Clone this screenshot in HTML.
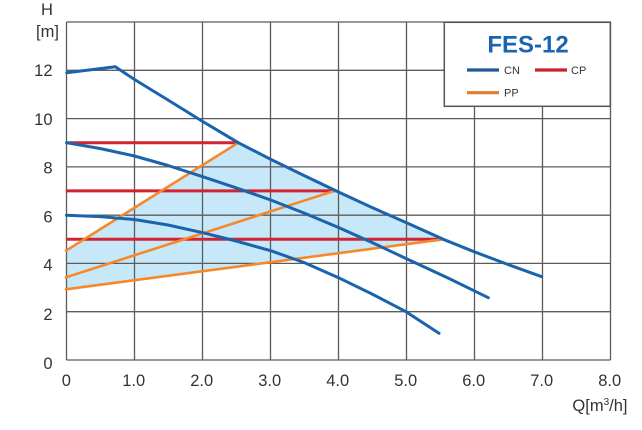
<!DOCTYPE html>
<html>
<head>
<meta charset="utf-8">
<style>
html,body{margin:0;padding:0;background:#fff;}
svg{display:block;}
text{font-family:"Liberation Sans",sans-serif;fill:#333;}
</style>
</head>
<body>
<svg width="642" height="430" viewBox="0 0 642 430" xmlns="http://www.w3.org/2000/svg">
  <!-- fill region -->
  <polygon fill="#c6e8f8" points="66.5,250.7 238.3,142.7 270.7,159.3 338.5,192 406,222.5 443.3,239.3 66.5,289.3"/>

  <!-- grid -->
  <g stroke="#5c5c5c" stroke-width="1.3" fill="none">
    <line x1="66.5" y1="22" x2="66.5" y2="360"/>
    <line x1="134.5" y1="22" x2="134.5" y2="360"/>
    <line x1="202.5" y1="22" x2="202.5" y2="360"/>
    <line x1="270.5" y1="22" x2="270.5" y2="360"/>
    <line x1="338.5" y1="22" x2="338.5" y2="360"/>
    <line x1="406.5" y1="22" x2="406.5" y2="360"/>
    <line x1="474.5" y1="22" x2="474.5" y2="360"/>
    <line x1="542.5" y1="22" x2="542.5" y2="360"/>
    <line x1="610.5" y1="22" x2="610.5" y2="360"/>
    <line x1="66.5" y1="22" x2="610.5" y2="22"/>
    <line x1="66.5" y1="70.3" x2="610.5" y2="70.3"/>
    <line x1="66.5" y1="118.6" x2="610.5" y2="118.6"/>
    <line x1="66.5" y1="166.9" x2="610.5" y2="166.9"/>
    <line x1="66.5" y1="215.2" x2="610.5" y2="215.2"/>
    <line x1="66.5" y1="263.4" x2="610.5" y2="263.4"/>
    <line x1="66.5" y1="311.7" x2="610.5" y2="311.7"/>
    <line x1="66.5" y1="360" x2="610.5" y2="360"/>
  </g>

  <!-- CP red lines -->
  <g stroke="#d42330" stroke-width="3" fill="none">
    <line x1="66" y1="142.7" x2="238.3" y2="142.7"/>
    <line x1="66" y1="190.9" x2="335" y2="190.9"/>
    <line x1="66" y1="239.3" x2="443.3" y2="239.3"/>
  </g>

  <!-- PP orange lines -->
  <g stroke="#f7882a" stroke-width="2.6" fill="none" stroke-linecap="round">
    <line x1="66" y1="250.7" x2="238.3" y2="142.7"/>
    <line x1="66" y1="277.3" x2="335" y2="190.7"/>
    <line x1="66" y1="289.3" x2="443.3" y2="239.3"/>
  </g>

  <!-- CN blue curves -->
  <g stroke="#1a63ad" stroke-width="3" fill="none" stroke-linejoin="round" stroke-linecap="round">
    <polyline points="66.7,72.7 115.3,66.7 134.5,79.5 168,100 202.7,121.5 238.3,142.7 270.7,159.3 304,175.5 338.5,192 372,207.5 406,222.5 443.3,239.3 474,251.7 508,264.5 541.7,276.7"/>
    <polyline points="66.5,142.7 100,148.5 134.5,156 168,165.5 202.7,176.7 236,187.8 270.7,200 304,213 338.5,227.5 372,242.5 406,258.5 448,278 488.3,297.7"/>
    <polyline points="66.5,215.3 100,216.6 134.5,219.5 168,225 202.7,232.7 236,241 270.7,250.7 304,262.5 338.5,277.7 372,294 406,311.7 439,333.3"/>
  </g>

  <!-- legend box -->
  <rect x="444.3" y="22.3" width="166" height="84" fill="#fff" stroke="#555" stroke-width="1.5"/>
  <text x="528" y="52.5" text-anchor="middle" style="font-size:24px;font-weight:bold;fill:#1b64b0;">FES-12</text>
  <line x1="467" y1="70" x2="499" y2="70" stroke="#1f5a96" stroke-width="3.2"/>
  <text x="504" y="74" style="font-size:11px;">CN</text>
  <line x1="535" y1="70" x2="567" y2="70" stroke="#c8222f" stroke-width="3.2"/>
  <text x="571" y="74" style="font-size:11px;">CP</text>
  <line x1="467" y1="92.7" x2="499" y2="92.7" stroke="#e07b32" stroke-width="3.2"/>
  <text x="504" y="96.7" style="font-size:11px;">PP</text>

  <!-- y axis labels -->
  <g style="font-size:16.5px;" text-anchor="end">
    <text x="52.5" y="76">12</text>
    <text x="52.5" y="125">10</text>
    <text x="52.5" y="173.3">8</text>
    <text x="52.5" y="222.7">6</text>
    <text x="52.5" y="270.7">4</text>
    <text x="52.5" y="320">2</text>
    <text x="52.5" y="369">0</text>
  </g>
  <text x="47" y="15" text-anchor="middle" style="font-size:16.5px;">H</text>
  <text x="47.5" y="37" text-anchor="middle" style="font-size:16.5px;">[m]</text>

  <!-- x axis labels -->
  <g style="font-size:16.5px;" text-anchor="middle">
    <text x="66.3" y="386">0</text>
    <text x="133.7" y="386">1.0</text>
    <text x="201.7" y="386">2.0</text>
    <text x="269.7" y="386">3.0</text>
    <text x="337.7" y="386">4.0</text>
    <text x="405.7" y="386">5.0</text>
    <text x="473.7" y="386">6.0</text>
    <text x="541.7" y="386">7.0</text>
    <text x="609.7" y="386">8.0</text>
  </g>
  <text x="627.5" y="411" text-anchor="end" style="font-size:16.5px;">Q[m<tspan dy="-6" style="font-size:10px;">3</tspan><tspan dy="6">/h]</tspan></text>
</svg>
</body>
</html>
